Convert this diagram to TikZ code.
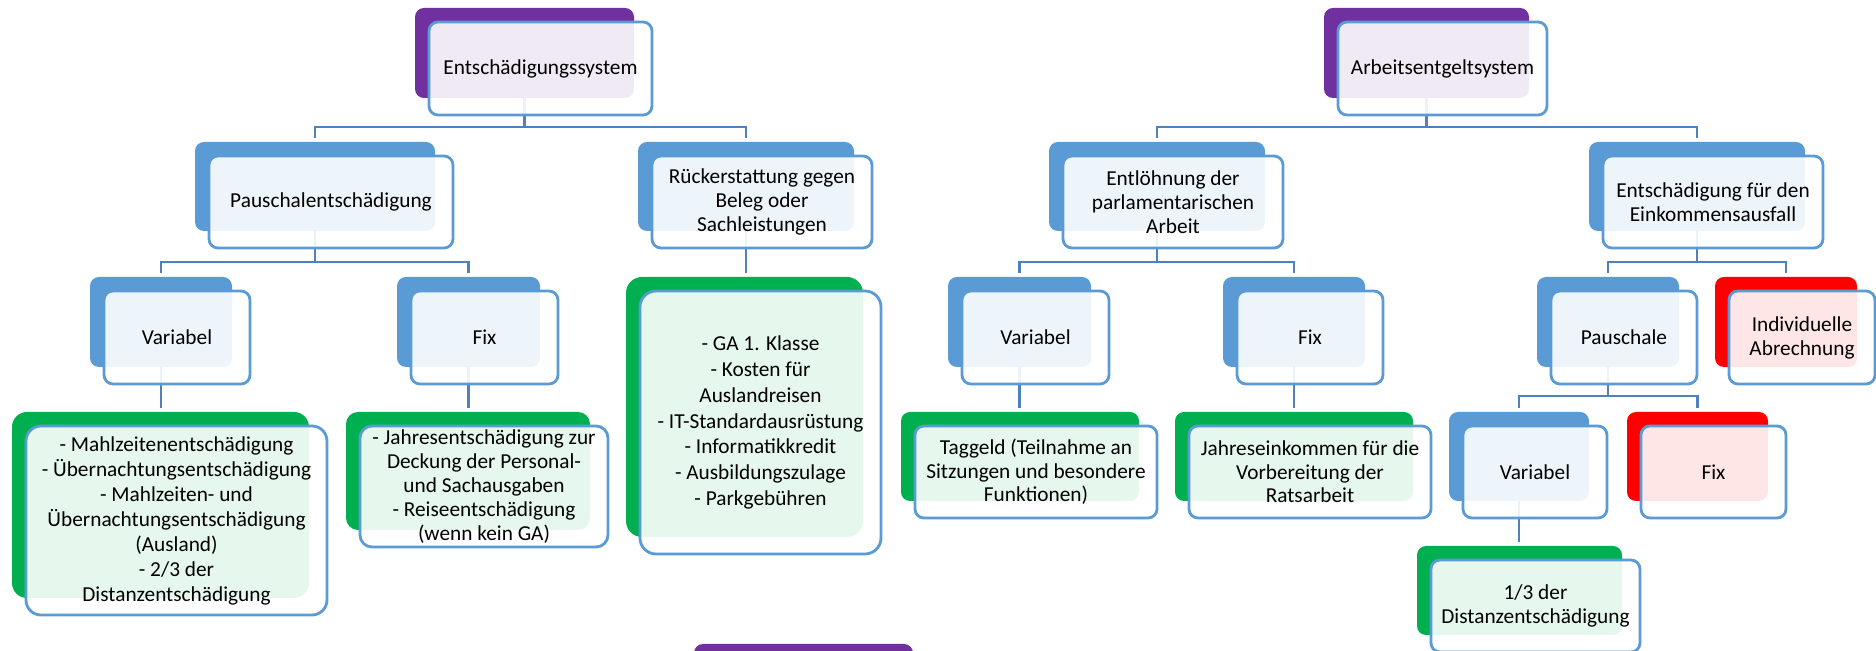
\documentclass[tikz,border=0pt]{standalone}
\usepackage{fontspec}
\setmainfont{Carlito}
\definecolor{cpurple}{HTML}{7030A0}
\definecolor{cblue}{HTML}{5B9BD5}
\definecolor{cgreen}{HTML}{00B050}
\definecolor{cred}{HTML}{FF0000}
\definecolor{cborder}{HTML}{5B9BD5}
\definecolor{cconn}{HTML}{4F81BD}
\pgfdeclarelayer{bg}
\pgfdeclarelayer{bk}
\pgfdeclarelayer{cn}
\pgfsetlayers{bg,bk,cn,main}
\tikzset{
  backbox/.style={rectangle, inner sep=0pt, outer sep=0pt, draw=none},
  frontbox/.style={rectangle, inner sep=0pt, outer sep=0pt, draw=cborder, line width=1.4pt, fill=white, fill opacity=0.9},
  lbl/.style={align=center, inner sep=0pt, text=black, font=\fontsize{10.65pt}{12pt}\selectfont},
  conn/.style={draw=cconn, line width=1.3pt, shorten >=2pt}
}
% name, color, x1, y1, x2, y2, radius(px), label options, text
\newcommand\hbx[9]{%
  \pgfmathsetmacro\bw{(#5-#3)*0.5}%
  \pgfmathsetmacro\bh{(#6-#4)*0.5}%
  \pgfmathsetmacro\rr{#7*0.5}%
  \pgfmathsetmacro\fw{(#5-#3+4)*0.5}%
  \pgfmathsetmacro\fh{(#6-#4+3)*0.5}%
  \begin{pgfonlayer}{bk}
    \node[backbox, fill=#2, rounded corners=\rr pt, minimum width=\bw pt, minimum height=\bh pt, anchor=north west] (#1-b) at (#3,#4) {};
  \end{pgfonlayer}
  \node[frontbox, rounded corners=\rr pt, minimum width=\fw pt, minimum height=\fh pt, anchor=north west] (#1-f) at (#3+14,#4+14) {};
  \node[lbl,#8] (#1) at (#1-f.center) {#9};
}
\begin{document}
\begin{tikzpicture}[x=0.5pt,y=-0.5pt]
\useasboundingbox (0,0) rectangle (1876,651);
\begin{pgfonlayer}{bg}
\fill[white] (0,0) rectangle (1876,651);
\end{pgfonlayer}
% level 1
\hbx{ent}{cpurple}{415}{8}{634}{98}{9}{}{Entschädigungssystem}
\hbx{arb}{cpurple}{1324}{8}{1529}{98}{9}{}{Arbeitsentgeltsystem}
% level 2
\hbx{pau}{cblue}{195}{142}{435}{231}{9}{}{Pauschalentschädigung}
\hbx{rue}{cblue}{638}{142}{854}{231}{9}{}{Rückerstattung gegen\\Beleg oder\\Sachleistungen}
\hbx{enl}{cblue}{1049}{142}{1265}{231}{9}{}{Entlöhnung der\\parlamentarischen\\Arbeit}
\hbx{eks}{cblue}{1589}{142}{1805}{231}{9}{}{Entschädigung für den\\Einkommensausfall}
% level 3
\hbx{va}{cblue}{90}{277}{232}{367}{9}{}{Variabel}
\hbx{fa}{cblue}{397}{277}{540}{367}{9}{}{Fix}
\hbx{ga}{cgreen}{626}{277}{863}{537}{16}{font=\fontsize{10.65pt}{12.85pt}\selectfont}{- GA 1. Klasse\\- Kosten für\\Auslandreisen\\- IT-Standardausrüstung\\- Informatikkredit\\- Ausbildungszulage\\- Parkgebühren}
\hbx{vb}{cblue}{948}{277}{1091}{367}{9}{}{Variabel}
\hbx{fb}{cblue}{1223}{277}{1365}{367}{9}{}{Fix}
\hbx{psc}{cblue}{1537}{277}{1679}{367}{9}{}{Pauschale}
\hbx{ind}{cred}{1715}{277}{1857}{367}{9}{}{Individuelle\\Abrechnung}
% level 4
\hbx{mz}{cgreen}{12}{412}{309}{598}{15}{font=\fontsize{10.65pt}{12.5pt}\selectfont}{- Mahlzeitenentschädigung\\- Übernachtungsentschädigung\\- Mahlzeiten- und\\Übernachtungsentschädigung\\(Ausland)\\- 2/3 der\\Distanzentschädigung}
\hbx{je}{cgreen}{346}{412}{590}{530}{12}{}{- Jahresentschädigung zur\\Deckung der Personal-\\und Sachausgaben\\- Reiseentschädigung\\(wenn kein GA)}
\hbx{tg}{cgreen}{901}{412}{1139}{501}{9}{font=\fontsize{10.65pt}{11.75pt}\selectfont}{Taggeld (Teilnahme an\\Sitzungen und besondere\\Funktionen)}
\hbx{jk}{cgreen}{1175}{412}{1413}{501}{9}{font=\fontsize{10.65pt}{11.75pt}\selectfont}{Jahreseinkommen für die\\Vorbereitung der\\Ratsarbeit}
\hbx{vc}{cblue}{1449}{412}{1589}{501}{9}{}{Variabel}
\hbx{fc}{cred}{1627}{412}{1768}{501}{9}{}{Fix}
% level 5
\hbx{dz}{cgreen}{1417}{546}{1622}{635}{9}{}{1/3 der\\Distanzentschädigung}
% partly visible box at the bottom
\begin{pgfonlayer}{bk}
\node[backbox, fill=cpurple, rounded corners=4.5pt, minimum width=109.5pt, minimum height=45pt, anchor=north west] (bot-b) at (694,644) {};
\end{pgfonlayer}
% connectors
\begin{pgfonlayer}{cn}
\draw[conn] (ent-b.south) -- ++(0,29) -| (pau-b.north);
\draw[conn] (ent-b.south) -- ++(0,29) -| (rue-b.north);
\draw[conn] (arb-b.south) -- ++(0,29) -| (enl-b.north);
\draw[conn] (arb-b.south) -- ++(0,29) -| (eks-b.north);
\draw[conn] (pau-b.south) -- ++(0,31) -| (va-b.north);
\draw[conn] (pau-b.south) -- ++(0,31) -| (fa-b.north);
\draw[conn] (rue-b.south) -- (rue-b.south |- ga-b.north);
\draw[conn] (enl-b.south) -- ++(0,31) -| (vb-b.north);
\draw[conn] (enl-b.south) -- ++(0,31) -| (fb-b.north);
\draw[conn] (eks-b.south) -- ++(0,31) -| (psc-b.north);
\draw[conn] (eks-b.south) -- ++(0,31) -| (ind-b.north);
\draw[conn] (va-b.south) -- (va-b.south |- mz-b.north);
\draw[conn] (fa-b.south) -- (fa-b.south |- je-b.north);
\draw[conn] (vb-b.south) -- (vb-b.south |- tg-b.north);
\draw[conn] (fb-b.south) -- (fb-b.south |- jk-b.north);
\draw[conn] (psc-b.south) -- ++(0,29) -| (vc-b.north);
\draw[conn] (psc-b.south) -- ++(0,29) -| (fc-b.north);
\draw[conn] (vc-b.south) -- (vc-b.south |- dz-b.north);
\end{pgfonlayer}
\end{tikzpicture}
\end{document}
